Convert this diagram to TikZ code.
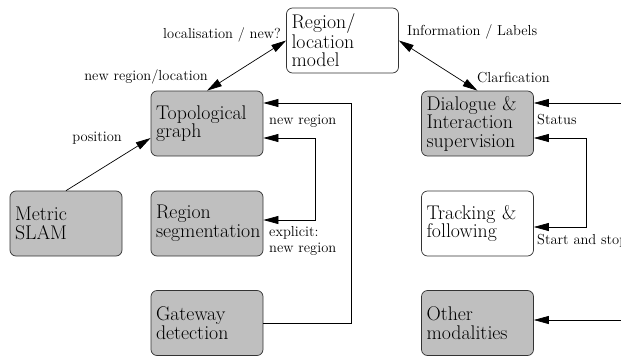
\documentclass[tikz,border=0pt]{standalone}
\usetikzlibrary{arrows.meta}

\begin{document}
\begin{tikzpicture}[x=1pt, y=-1pt,
    module/.style={draw=black!80, line width=0.7pt, rounded corners=6pt, minimum width=112pt, minimum height=65pt,
      text width=102pt, inner xsep=5pt, inner ysep=3pt, align=left, font=\fontsize{19.8}{18.5}\selectfont},
    greybox/.style={module, fill=black!25},
    whitebox/.style={module, fill=white},
    lbl/.style={inner sep=0pt, font=\fontsize{14.5}{16}\selectfont},
    link/.style={-{Triangle[length=15pt,width=8pt]}, line width=0.7pt},
    twoway/.style={{Triangle[length=15pt,width=8pt]}-{Triangle[length=15pt,width=8pt]}, line width=0.7pt}]

        \useasboundingbox (0,0) rectangle (621,356);

        % Modules
        \node[whitebox] (model) at (342.5,40.5) {Region/\\location\\model};
        \node[greybox] (topo) at (207,123.5) {Topological\\graph};
        \node[greybox] (dialog) at (477.5,123.5) {Dialogue \&\\Interaction\\supervision};
        \node[greybox] (slam) at (66,223.5) {Metric\\SLAM};
        \node[greybox] (seg) at (207,223.5) {Region\\segmentation};
        \node[whitebox] (track) at (477.5,223.5) {Tracking \&\\following};
        \node[greybox] (gate) at (207,323) {Gateway\\detection};
        \node[greybox] (other) at (477.5,323) {Other\\modalities};

        % Inputs coming in from the right edge
        \coordinate (inDialog) at (640,103);
        \coordinate (inOther) at (640,320);

        % Connections
        \draw[twoway] (model.west) -- (topo.north);
        \draw[twoway] (model.east) -- (dialog.north);
        \draw[link] (slam.north) -- ([yshift=-14.5pt]topo.west);
        \draw[link] (gate.east) -- ++(88,0) |- ([yshift=20.5pt]topo.east);
        \draw[twoway] ([yshift=-14.5pt]topo.east) -- ++(52,0) |- ([yshift=3.5pt]seg.east);
        \draw[link] (inDialog) -- ([yshift=20.5pt]dialog.east);
        \draw[twoway] ([yshift=-14.5pt]dialog.east) -- ++(52,0) |- ([yshift=-3.5pt]track.east);
        \draw[link] (inOther) -- ([yshift=3pt]other.east);

        % Labels
        \node[lbl, anchor=mid east] (lblPos) at (122,139) {position};
        \node[lbl, anchor=mid east] (lblLoc) at (281,36) {localisation / new?};
        \node[lbl, anchor=mid east] (lblNew) at (208,78) {new region/location};
        \node[lbl, anchor=mid west] (lblInfo) at (407,33) {Information / Labels};
        \node[lbl, anchor=mid west] (lblClar) at (477,80) {Clarfication};
        \node[lbl, anchor=mid west] (lblRegion) at (269,122) {new region};
        \node[lbl, anchor=north west, align=left] (lblExpl) at (269,226) {explicit:\\new region};
        \node[lbl, anchor=mid west] (lblStatus) at (537,122) {Status};
        \node[lbl, anchor=mid west] (lblStart) at (537,242) {Start and stop};
    \end{tikzpicture}
\end{document}
